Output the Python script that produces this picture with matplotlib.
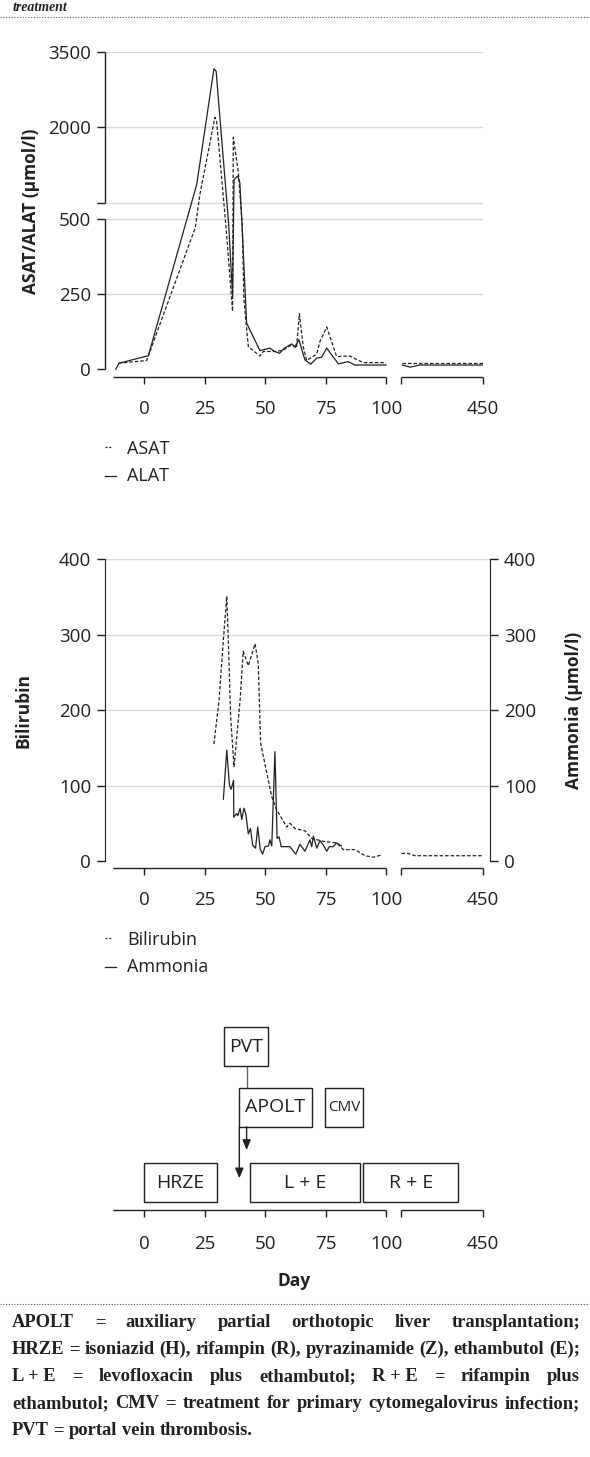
import matplotlib
matplotlib.use("Agg")
import matplotlib.pyplot as plt
from matplotlib.patches import Rectangle
from matplotlib.lines import Line2D

W, H = 590, 1457
plt.rcParams['font.family'] = ['Open Sans', 'DejaVu Sans']
INK = '#231f20'
GRID = '#d9d9d9'

# ---- data (day 0 = start of HRZE) ----
alat_days = [-11.7, -10.3, 1.8, 21.8, 28.9, 29.8, 35.0, 36.6, 37.2, 38.7, 39.6, 40.5,
             42.4, 44.4, 47.9, 50.0, 52.0, 54.0, 56.0, 58.0, 61.0, 62.4, 64.0, 66.5,
             68.9, 71.4, 73.4, 75.5, 80.3, 84.4, 87.2, 100]
alat_vals = [0, 20, 45, 866, 3166, 3120, 480, 242, 960, 1033, 900, 480,
             153, 120, 62, 66, 70, 59, 53, 70, 84, 75, 98, 31,
             17, 37, 40, 70, 18, 25, 14, 14]
alat_late_days = [105, 140, 180, 450]
alat_late_vals = [14, 7, 14, 14]

asat_days = [-10.6, 1.1, 21.2, 23.1, 29.3, 30.0, 33.9, 36.6, 36.9, 39.0, 40.6, 41.3,
             43.1, 47.9, 49.3, 54.8, 57.6, 61.0, 63.0, 64.2, 65.8, 67.2, 71.4, 72.7,
             75.5, 79.6, 85.0, 90.6, 100]
asat_vals = [20, 29, 470, 666, 2200, 2130, 470, 192, 1800, 1100, 480, 231,
             75, 44, 59, 59, 64, 81, 70, 184, 75, 29, 51, 92,
             140, 42, 44, 22, 22]
asat_late_days = [105, 450]
asat_late_vals = [20, 20]

bili_days = [28.9, 31.0, 32.8, 34.2, 34.8, 35.8, 37.2, 39.7, 41.0, 43.1, 45.9, 47.2,
             48.2, 52.8, 54.8, 59.0, 60.3, 62.4, 66.5, 69.3, 74.1, 79.6, 82.4, 87.2,
             91.3, 94.8, 98.2]
bili_vals = [155, 213, 293, 351, 297, 191, 125, 213, 278, 259, 288, 262,
             156, 85, 68, 45, 50, 43, 40, 30, 26, 24, 15, 15,
             7, 5, 8]
bili_late_days = [102, 130, 160, 450]
bili_late_vals = [10, 10, 7, 7]

ammo_days = [32.8, 34.2, 35.3, 36.0, 37.0, 37.1, 38.3, 38.8, 39.7, 40.4, 41.3, 42.1,
             43.1, 44.0, 44.9, 46.1, 47.0, 48.0, 49.0, 50.0, 51.5, 52.0, 52.8, 54.1,
             55.0, 55.8, 56.7, 60.3, 62.7, 64.4, 66.5, 68.6, 69.3, 70.0, 71.4, 72.7,
             74.1, 75.5, 76.6, 78.2, 79.6, 81.6]
ammo_vals = [82, 147, 101, 95, 107, 58, 63, 60, 70, 55, 70, 62,
             36, 43, 21, 17, 45, 16, 9, 19, 20, 28, 20, 145,
             30, 32, 19, 19, 9, 22, 13, 28, 19, 33, 17, 27,
             21, 13, 19, 19, 24, 20]

regimen_labels = ['HRZE', 'L + E', 'R + E']
regimen_start = [0, 43.8, 90.6]
regimen_end = [30, 89.3, 345]
event_labels = ['PVT', 'APOLT', 'CMV']
event_start = [33.1, 39.4, 74.8]
event_end = [51.4, 69.3, 90.4]

tick_labels = ['0', '25', '50', '75', '100', '', '450']

# ---- helpers ----
X0, PX_PER_DAY = 144, 2.42
BREAK_START, BREAK_END = 106.2, 140.0


def xmap(d):
    if d <= 100:
        return d
    return BREAK_START + (d - 100) * (BREAK_END - BREAK_START) / 350


def late_x(days):
    return [xmap(d) for d in days]


def liver_y(vals):
    return [v if v <= 500 else 552.3 + (v - 500) / 6 for v in vals]


fig = plt.figure(figsize=(W / 100, H / 100), dpi=100)


def px_axes(l, t, r, b):
    ax = fig.add_axes([l / W, 1 - b / H, (r - l) / W, (b - t) / H])
    ax.set_xlim((l - X0) / PX_PER_DAY, (r - X0) / PX_PER_DAY)
    return ax


def day_axis(ax, pad, length=5):
    for s in ['top', 'right', 'bottom']:
        ax.spines[s].set_visible(False)
    tr = ax.get_xaxis_transform()
    for x0, x1 in [((112.7 - X0) / PX_PER_DAY, 100), (BREAK_START, BREAK_END)]:
        ax.plot([x0, x1], [0, 0], transform=tr, color=INK, lw=1, clip_on=False,
                solid_capstyle='butt')
    ax.set_xticks([0, 25, 50, 75, 100, BREAK_START, BREAK_END], tick_labels)
    ax.tick_params(axis='x', direction='out', length=length, width=1, color=INK,
                   pad=pad, labelsize=13.5, labelcolor=INK)


def legend_row(y, dashed, label):
    if dashed:
        fig.add_artist(Line2D([105 / W, 112 / W], [1 - (y - 2) / H] * 2, color=INK,
                              lw=0.9, ls=(0, (1.6, 1.4))))
    else:
        fig.add_artist(Line2D([105 / W, 116 / W], [1 - y / H] * 2, color=INK, lw=0.9))
    fig.text(127 / W, 1 - y / H, label, fontsize=13, va='center', color=INK)


DASH = (0, (2.8, 1.6))

# ---- ASAT / ALAT ----
ax1 = px_axes(105, 52, 483, 377.3)
ax1.set_ylim(-26.7, 1052.3)
day_axis(ax1, pad=11)
ax1.spines['left'].set_visible(False)
ytr = ax1.get_yaxis_transform()
for y0, y1 in [(0, 500), (552.3, 1052.3)]:
    ax1.plot([0, 0], [y0, y1], transform=ytr, color=INK, lw=1, clip_on=False,
             solid_capstyle='butt')
ax1.set_yticks([0, 250, 500, 552.3, 802.3, 1052.3], ['0', '250', '500', '', '2000', '3500'])
ax1.tick_params(axis='y', direction='out', length=6, width=1, color=INK, pad=4,
                labelsize=13.5, labelcolor=INK)
for g in [250, 500, 552.3, 802.3, 1052.3]:
    ax1.axhline(g, color=GRID, lw=1, zorder=0)
ax1.plot(asat_days, liver_y(asat_vals), color=INK, lw=0.9, ls=DASH)
ax1.plot(late_x(asat_late_days), liver_y(asat_late_vals), color=INK, lw=0.9, ls=DASH)
ax1.plot(alat_days, liver_y(alat_vals), color=INK, lw=0.9)
ax1.plot(late_x(alat_late_days), liver_y(alat_late_vals), color=INK, lw=0.9)
fig.text(31 / W, 1 - 211 / H, 'ASAT/ALAT (μmol/l)', rotation=90, fontsize=12.5,
         fontweight='bold', ha='center', va='center', color=INK)
legend_row(449, True, 'ASAT')
legend_row(476, False, 'ALAT')

# ---- Bilirubin / Ammonia ----
ax2 = px_axes(105, 559.3, 490, 868.3)
ax2.set_ylim(-9.7, 400)
day_axis(ax2, pad=11)
ax2.spines['right'].set_visible(True)
for s in ['left', 'right']:
    ax2.spines[s].set_bounds(0, 400)
    ax2.spines[s].set_color(INK)
ax2.set_yticks([0, 100, 200, 300, 400])
ax2.tick_params(axis='y', which='both', left=True, right=True, labelleft=True,
                labelright=True, direction='out', length=6, width=1, color=INK,
                pad=4, labelsize=13.5, labelcolor=INK)
for g in [100, 200, 300, 400]:
    ax2.axhline(g, color=GRID, lw=1, zorder=0)
ax2.plot(bili_days, bili_vals, color=INK, lw=0.9, ls=DASH)
ax2.plot(late_x(bili_late_days), bili_late_vals, color=INK, lw=0.9, ls=DASH)
ax2.plot(ammo_days, ammo_vals, color=INK, lw=0.9)
fig.text(24 / W, 1 - 710 / H, 'Bilirubin', rotation=90, fontsize=12.5,
         fontweight='bold', ha='center', va='center', color=INK)
fig.text(574 / W, 1 - 710 / H, 'Ammonia (μmol/l)', rotation=90, fontsize=12.5,
         fontweight='bold', ha='center', va='center', color=INK)
legend_row(940, True, 'Bilirubin')
legend_row(967, False, 'Ammonia')

# ---- treatment timeline ----
ax3 = px_axes(105, 1020, 483, 1210)
ax3.set_ylim(0, 190)
day_axis(ax3, pad=13)
ax3.spines['left'].set_visible(False)
ax3.set_yticks([])
lanes = {'reg': (8.3, 38.4), 'ev': (83.3, 38.4), 'top': (144.3, 38.4)}
for lab, s, e in zip(regimen_labels, regimen_start, regimen_end):
    y0, h = lanes['reg']
    ax3.add_patch(Rectangle((xmap(s), y0), xmap(e) - xmap(s), h, fc='white',
                            ec=INK, lw=1, clip_on=False))
    ax3.text((xmap(s) + xmap(e)) / 2, y0 + h / 2, lab, fontsize=14, ha='center',
             va='center', color=INK)
for lab, s, e in zip(event_labels, event_start, event_end):
    y0, h = lanes['top'] if lab == 'PVT' else lanes['ev']
    ax3.add_patch(Rectangle((xmap(s), y0), xmap(e) - xmap(s), h, fc='white',
                            ec=INK, lw=1, clip_on=False, zorder=3))
    ax3.text((xmap(s) + xmap(e)) / 2, y0 + h / 2, lab,
             fontsize=11 if lab == 'CMV' else 14, ha='center', va='center',
             color=INK, zorder=4)
ax3.plot([42.4, 42.4], [144.3, 121.7], color='#666666', lw=1, zorder=2)
for x, y_end in [(42.4, 60), (39.4, 31.7)]:
    ax3.annotate('', xy=(x, y_end), xytext=(x, 83.3),
                 arrowprops=dict(arrowstyle='-|>,head_length=0.6,head_width=0.25',
                                 color=INK, lw=1, shrinkA=0, shrinkB=0))
fig.text(294 / W, 1 - 1281 / H, 'Day', fontsize=12.5, fontweight='bold',
         ha='center', va='center', color=INK)

# ---- caption pieces ----
fig.text(13 / W, 1 - 1 / H, 'treatment', family='Liberation Serif', fontsize=10,
         fontstyle='italic', fontweight='bold', va='top', color=INK)
for yy in [17, 1304]:
    fig.add_artist(Line2D([0, 1], [1 - yy / H] * 2, color='#555555', lw=0.8,
                          ls=(0, (1, 1.5))))

note_lines = [
    ['APOLT', '=', 'auxiliary', 'partial', 'orthotopic', 'liver', 'transplantation;'],
    ['HRZE', '=', 'isoniazid', '(H),', 'rifampin', '(R),', 'pyrazinamide', '(Z),',
     'ethambutol', '(E);'],
    ['L + E', '=', 'levofloxacin', 'plus', 'ethambutol;', 'R + E', '=', 'rifampin', 'plus'],
    ['ethambutol;', 'CMV', '=', 'treatment', 'for', 'primary', 'cytomegalovirus',
     'infection;'],
    ['PVT', '=', 'portal', 'vein', 'thrombosis.'],
]
renderer = fig.canvas.get_renderer()
note_style = dict(family='Liberation Serif', fontweight='bold', color=INK, va='baseline')
left_px, right_px = 12, 580


def width_of(s, fs):
    t = fig.text(0, 0, s, fontsize=fs, **note_style)
    w = t.get_window_extent(renderer).width
    t.remove()
    return w


fs = 13
widest = max(width_of(' '.join(line), fs) for line in note_lines[:-1])
fs = fs * (right_px - left_px) / widest * 0.995
space = width_of('a a', fs) - width_of('aa', fs)
for i, line in enumerate(note_lines):
    base = 1327 + 27 * i
    widths = [width_of(w, fs) for w in line]
    if i < len(note_lines) - 1:
        gap = (right_px - left_px - sum(widths)) / (len(line) - 1)
    else:
        gap = space
    x = left_px
    for word, w in zip(line, widths):
        fig.text(x / W, 1 - base / H, word, fontsize=fs, **note_style)
        x += w + gap

fig.savefig('out.png', dpi=100)
